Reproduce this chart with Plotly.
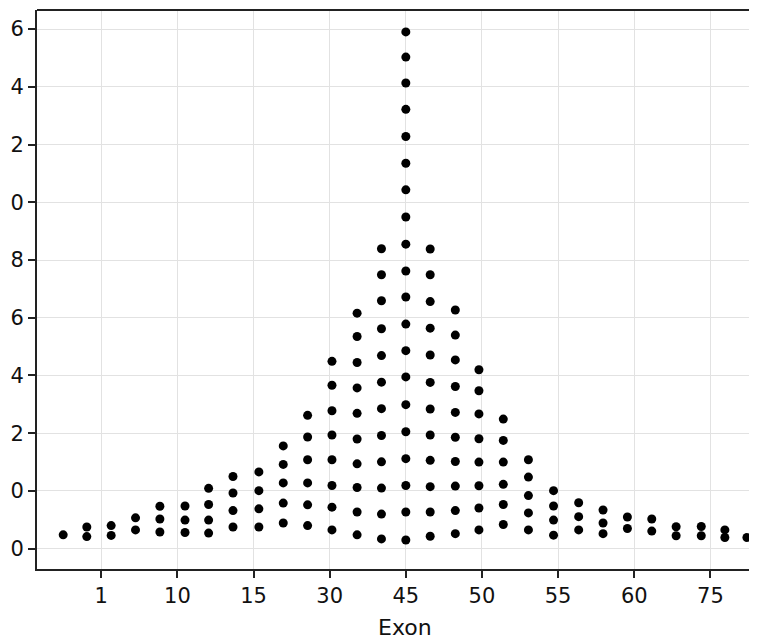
import plotly.graph_objects as go

# x tick labels (categories shown on the axis)
tick_labels = ["1", "10", "15", "30", "45", "50", "55", "60", "75"]
tick_positions = [0, 1, 2, 3, 4, 5, 6, 7, 8]

# y tick labels as visible in the reference
y_tick_vals = [0, 2, 4, 6, 8, 10, 12, 14, 16, 18]
y_tick_text = ["0", "0", "2", "4", "6", "8", "0", "2", "4", "6"]

# swarm column x positions
col_x = [-0.50, -0.19, 0.13, 0.45, 0.77, 1.10, 1.41, 1.73, 2.07, 2.39,
         2.71, 3.03, 3.36, 3.68, 4.00, 4.32, 4.65, 4.96, 5.28, 5.61,
         5.94, 6.27, 6.59, 6.91, 7.23, 7.55, 7.88, 8.19, 8.48]

# y values of the dots in each column
col_y = [
    [0.48],
    [0.75, 0.42],
    [0.80, 0.46],
    [1.07, 0.65],
    [1.47, 1.03, 0.58],
    [1.48, 0.99, 0.56],
    [2.09, 1.53, 0.99, 0.54],
    [2.50, 1.93, 1.32, 0.75],
    [2.66, 2.01, 1.38, 0.75],
    [3.56, 2.92, 2.28, 1.58, 0.89],
    [4.62, 3.87, 3.08, 2.28, 1.52, 0.80],
    [6.49, 5.66, 4.78, 3.94, 3.08, 2.19, 1.44, 0.65],
    [8.16, 7.35, 6.45, 5.57, 4.69, 3.80, 2.94, 2.12, 1.27, 0.48],
    [10.39, 9.49, 8.59, 7.62, 6.69, 5.77, 4.85, 3.92, 3.01, 2.10, 1.20, 0.34],
    [17.90, 17.03, 16.13, 15.22, 14.28, 13.35, 12.43, 11.49, 10.55, 9.62,
     8.72, 7.78, 6.86, 5.95, 4.99, 4.05, 3.12, 2.19, 1.27, 0.30],
    [10.38, 9.49, 8.56, 7.64, 6.71, 5.76, 4.84, 3.94, 3.06, 2.15, 1.27, 0.43],
    [8.27, 7.40, 6.54, 5.62, 4.72, 3.86, 3.02, 2.17, 1.32, 0.52],
    [6.20, 5.47, 4.67, 3.81, 3.00, 2.18, 1.41, 0.65],
    [4.49, 3.75, 3.00, 2.23, 1.53, 0.84],
    [3.08, 2.48, 1.84, 1.24, 0.65],
    [2.01, 1.48, 0.99, 0.47],
    [1.59, 1.11, 0.65],
    [1.34, 0.89, 0.52],
    [1.10, 0.70],
    [1.03, 0.61],
    [0.76, 0.45],
    [0.77, 0.45],
    [0.65, 0.39],
    [0.39],
]

x_title = "Exon"

xs, ys = [], []
for cx, cys in zip(col_x, col_y):
    for v in cys:
        xs.append(cx)
        ys.append(v)

FONT = "DejaVu Sans"
fig = go.Figure()
fig.add_trace(go.Scatter(
    x=xs, y=ys, mode="markers",
    marker=dict(color="black", size=9, line=dict(width=0)),
    cliponaxis=True, hoverinfo="skip", showlegend=False,
))

fig.update_layout(
    width=762, height=642,
    margin=dict(l=37, r=13, t=10, b=73),
    paper_bgcolor="white", plot_bgcolor="white",
    font=dict(family=FONT, size=21, color="#111111"),
    xaxis=dict(
        range=[-0.844, 8.507], tickvals=tick_positions, ticktext=tick_labels,
        tickfont=dict(size=21, family=FONT),
        showgrid=True, gridcolor="#e2e2e2", gridwidth=1,
        showline=True, linecolor="#222222", linewidth=2,
        ticks="outside", ticklen=7, tickwidth=1.5, tickcolor="#222222",
        zeroline=False, automargin=False,
    ),
    yaxis=dict(
        range=[-0.703, 18.66], tickvals=y_tick_vals, ticktext=y_tick_text,
        tickfont=dict(size=21, family=FONT),
        showgrid=True, gridcolor="#e2e2e2", gridwidth=1,
        showline=True, linecolor="#222222", linewidth=2,
        ticks="outside", ticklen=7, tickwidth=1.5, tickcolor="#222222",
        zeroline=False, automargin=False,
    ),
    shapes=[dict(type="line", xref="paper", yref="paper", x0=0, x1=1, y0=1, y1=1,
                 line=dict(color="#222222", width=2))],
    annotations=[dict(text=x_title, xref="paper", yref="paper", x=0.517, y=-0.104,
                      xanchor="center", yanchor="middle", showarrow=False,
                      font=dict(size=22, family=FONT, color="#111111"))],
)

fig.write_html("out.html")
